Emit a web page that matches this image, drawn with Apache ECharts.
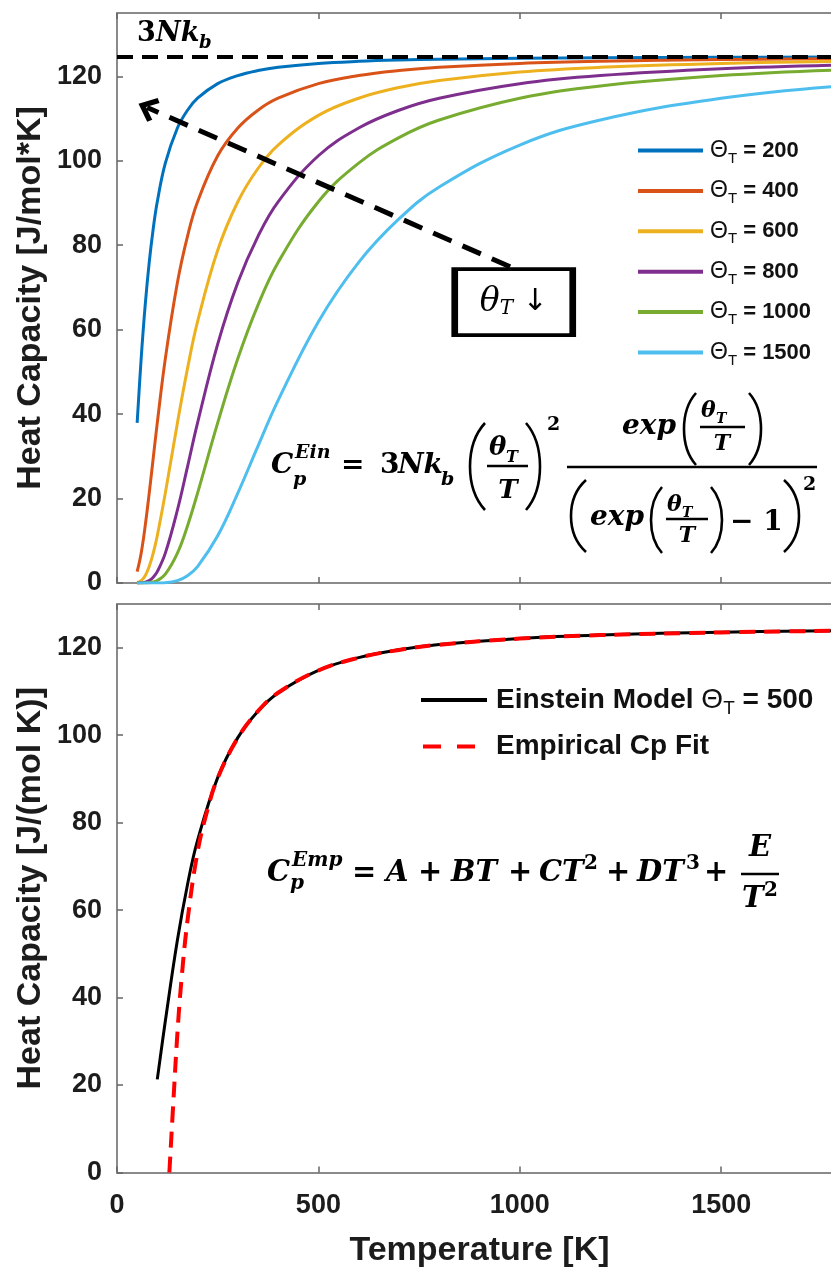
<!DOCTYPE html>
<html>
<head>
<meta charset="utf-8">
<script src="https://cdn.jsdelivr.net/npm/echarts@6/dist/echarts.min.js"></script>
<style>
  html, body { margin: 0; padding: 0; background: #fff; }
  #main { width: 831px; height: 1269px; }
</style>
</head>
<body>
<div id="main"></div>
<script>
// ---- top panel: Einstein model for several theta_T
const tempsTop = [50, 60, 70, 80, 90, 100, 120, 150, 175, 200, 250, 300, 350, 400, 500, 600, 700, 800, 1000, 1200, 1500, 1800];
const cp200  = [37.92, 53.15, 65.81, 75.93, 83.96, 90.29, 99.44, 107.76, 111.97, 114.81, 118.26, 120.18, 121.36, 122.13, 123.05, 123.55, 123.86, 124.05, 124.28, 124.41, 124.52, 124.57];
const cp400  = [2.68, 7.07, 13.52, 21.29, 29.62, 37.92, 53.15, 71.16, 82.11, 90.29, 101.19, 107.76, 111.97, 114.81, 118.26, 120.18, 121.36, 122.13, 123.05, 123.55, 123.96, 124.19];
const cp600  = [0.11, 0.57, 1.74, 3.88, 7.07, 11.18, 21.29, 37.92, 50.78, 61.89, 78.81, 90.29, 98.17, 103.73, 110.75, 114.81, 117.34, 119.02, 121.03, 122.13, 123.05, 123.55];
const cp800  = [0, 0.04, 0.18, 0.57, 1.36, 2.68, 7.07, 17.29, 27.52, 37.92, 56.57, 71.16, 82.11, 90.29, 101.19, 107.76, 111.97, 114.81, 118.26, 120.18, 121.79, 122.67];
const cp1000 = [0, 0, 0.02, 0.07, 0.23, 0.57, 2.08, 7.07, 13.52, 21.29, 37.92, 53.15, 65.81, 75.93, 90.29, 99.44, 105.49, 109.66, 114.81, 117.73, 120.18, 121.54];
const cp1500 = [0, 0, 0, 0, 0, 0.01, 0.07, 0.57, 1.74, 3.88, 11.18, 21.29, 32.41, 43.25, 61.89, 75.93, 86.22, 93.79, 103.73, 109.66, 114.81, 117.73];
const thetas = ['200', '400', '600', '800', '1000', '1500'];
const topSeriesData = [cp200, cp400, cp600, cp800, cp1000, cp1500];
const colors = ['#0072BD', '#D95319', '#EDB120', '#7E2F8E', '#77AC30', '#4DBEEE'];
const limit3Nkb = 124.7;

// ---- bottom panel: Einstein theta_T = 500 vs empirical fit
const tempsBottom = [100, 120, 150, 175, 200, 250, 300, 350, 400, 500, 600, 700, 800, 1000, 1200, 1500, 1800];
const einstein500 = [21.29, 34.63, 53.15, 65.81, 75.93, 90.29, 99.44, 105.49, 109.66, 114.81, 117.73, 119.53, 120.72, 122.13, 122.91, 123.55, 123.90];
const tempsFit = [130, 140, 150, 160, 175, 200, 225, 250, 300, 350, 400, 500, 600, 700, 800, 1000, 1200, 1500, 1800];
const fitCp = [0, 16.3, 31.9, 44.0, 57.6, 73.3, 83.1, 90.2, 99.4, 105.5, 109.7, 114.8, 117.7, 119.5, 120.7, 122.1, 122.9, 123.5, 123.9];

const pairs = (xs, ys) => xs.map((x, i) => [x, ys[i]]);

const sans = 'Liberation Sans';
const serif = 'DejaVu Serif';
const axisGrey = '#8a8a8a';
const labelCol = '#1c1c1c';

function xAxisFor(grid, pos, withLabels) {
    return {
        type: 'value', gridIndex: grid, position: pos,
        min: 0, max: 1800, interval: 500,
        axisLine: { show: true, onZero: false, lineStyle: { color: axisGrey, width: 2 } },
        axisTick: { show: true, inside: true, length: 6, lineStyle: { color: '#666', width: 1.5 } },
        axisLabel: {
            show: withLabels, showMaxLabel: false, margin: 20,
            formatter: v => String(v),
            fontFamily: sans, fontWeight: 'bold', fontSize: 27, color: labelCol
        },
        splitLine: { show: false },
        name: withLabels ? 'Temperature [K]' : '',
        nameLocation: 'middle', nameGap: 61, nameMoveOverlap: false,
        nameTextStyle: { fontFamily: sans, fontWeight: 'bold', fontSize: 34, color: labelCol }
    };
}
function yAxisFor(grid, max, name) {
    return {
        type: 'value', gridIndex: grid, min: 0, max: max, interval: 20,
        axisLine: { show: true, onZero: false, lineStyle: { color: axisGrey, width: 2 } },
        axisTick: { show: true, inside: true, length: 6, lineStyle: { color: '#666', width: 1.5 } },
        axisLabel: {
            showMaxLabel: false, margin: 15,
            formatter: v => String(v),
            fontFamily: sans, fontWeight: 'bold', fontSize: 27, color: labelCol
        },
        splitLine: { show: false },
        name: name, nameLocation: 'middle', nameGap: 69, nameMoveOverlap: false,
        nameTextStyle: { fontFamily: sans, fontWeight: 'bold', fontSize: 34, color: labelCol }
    };
}

// math text helpers (pixel layout of the equations)
function mt(x, base, s, size, o) {
    o = o || {};
    return {
        type: 'text', x: x, y: base - 0.35 * size, silent: true,
        style: {
            text: s, fontFamily: o.family || serif, fontSize: size,
            fontStyle: o.upright ? 'normal' : 'italic',
            fontWeight: o.light ? 'normal' : 'bold',
            fill: '#000', align: o.align || 'left', verticalAlign: 'middle'
        }
    };
}
function hl(x1, x2, y) {
    return { type: 'line', silent: true, shape: { x1: x1, y1: y, x2: x2, y2: y }, style: { stroke: '#000', lineWidth: 2.6 } };
}
function paren(xEnd, top, bot, xMid) {
    const c = xEnd + (xMid - xEnd) / 0.75;
    return {
        type: 'bezierCurve', silent: true,
        shape: { x1: xEnd, y1: top, x2: xEnd, y2: bot, cpx1: c, cpy1: top + (bot - top) * 0.25, cpx2: c, cpy2: bot - (bot - top) * 0.25 },
        style: { stroke: '#000', lineWidth: 2.6, fill: null }
    };
}

const up = { upright: true };
const graphics = [
    // 3Nk_b label
    mt(137, 43, '3', 27, up), mt(156, 43, 'Nk', 27), mt(199, 50, 'b', 18),
    // C_p^Ein = 3Nk_b (θT/T)^2 exp(θT/T) / (exp(θT/T) - 1)^2
    mt(271, 476, 'C', 28), mt(295, 460, 'Ein', 19), mt(293, 487, 'p', 19),
    mt(341, 476, '=', 28, up), mt(380, 476, '3', 28, up), mt(398, 476, 'Nk', 28), mt(441, 487, 'b', 19),
    paren(485, 423, 510, 470),
    mt(489, 457, 'θ', 26), mt(506, 463, 'T', 16), hl(487, 528, 466), mt(508, 500, 'T', 26, { align: 'center' }),
    paren(526, 423, 510, 540),
    mt(547, 432, '2', 19, up),
    hl(567, 817, 467),
    mt(622, 437, 'exp', 28),
    paren(696, 393, 465, 684),
    mt(701, 419, 'θ', 22), mt(716, 424, 'T', 14), hl(700, 745, 427), mt(722, 452, 'T', 22, { align: 'center' }),
    paren(749, 393, 465, 761),
    paren(586, 480, 552, 571),
    mt(590, 528, 'exp', 28),
    paren(662, 487, 553, 651),
    mt(667, 513, 'θ', 22), mt(682, 518, 'T', 14), hl(666, 708, 519), mt(687, 544, 'T', 22, { align: 'center' }),
    paren(711, 487, 553, 722),
    mt(730, 533, '− 1', 28, up),
    paren(784, 480, 552, 799),
    mt(803, 492, '2', 19, up),
    // C_p^Emp = A + BT + CT^2 + DT^3 + E/T^2
    mt(267, 884, 'C', 29), mt(292, 868, 'Emp', 20), mt(290, 891, 'p', 20),
    mt(352, 884, '=', 29, up), mt(386, 884, 'A', 29), mt(418, 884, '+', 29, up),
    mt(451, 884, 'BT', 29), mt(508, 884, '+', 29, up),
    mt(539, 884, 'CT', 29), mt(584, 871, '2', 20, up), mt(606, 884, '+', 29, up),
    mt(637, 884, 'DT', 29), mt(686, 871, '3', 20, up), mt(704, 884, '+', 29, up),
    mt(760, 859, 'E', 29, { align: 'center' }), hl(741, 779, 874), mt(742, 910, 'T', 29), mt(764, 898, '2', 20, up)
];

const chevron = 'path://M10,0 L20,12 L17,15 L10,6.5 L3,15 L0,12 Z';
const dashIcon = 'path://M0,0H0.01V4H0Z M2,0H20V4H2Z M36,0H54V4H36Z M65.99,0H66V4H65.99Z';

const topSeries = thetas.map((t, i) => ({
    name: 'Θ_T = ' + t,
    type: 'line', xAxisIndex: 0, yAxisIndex: 0,
    data: pairs(tempsTop, topSeriesData[i]),
    smooth: 0.4, symbol: 'none',
    lineStyle: { color: colors[i], width: 3 },
    itemStyle: { color: colors[i] },
    z: 3
}));
// 3Nk_b asymptote
topSeries[0].markLine = {
    silent: true, symbol: 'none', label: { show: false },
    lineStyle: { color: '#000', width: 4, type: [16, 9] },
    data: [{ yAxis: limit3Nkb }]
};
// dashed arrow "theta_T decreasing"
topSeries[1].markLine = {
    silent: true, label: { show: false }, symbolSize: [26, 19],
    lineStyle: { color: '#000', width: 5, type: [20, 12] },
    data: [[{ coord: [976, 74.9], symbol: 'none' }, { coord: [75, 112.6], symbol: chevron }]]
};
// theta_T box
topSeries[2].markPoint = {
    silent: true,
    data: [{
        coord: [985, 66.5], symbol: 'rect', symbolSize: [118, 66],
        itemStyle: { color: '#fff', borderColor: '#000', borderWidth: 5 },
        label: {
            show: true, position: 'inside',
            formatter: '{th|θ}{sub|T}{ar| ↓}',
            rich: {
                th: { fontFamily: serif, fontStyle: 'italic', fontSize: 33, color: '#000' },
                sub: { fontFamily: serif, fontStyle: 'italic', fontSize: 20, color: '#000', padding: [14, 0, 0, 0] },
                ar: { fontFamily: 'DejaVu Sans', fontSize: 30, color: '#000' }
            }
        }
    }]
};

const bottomSeries = [
    {
        name: 'Einstein Model Θ_T = 500',
        type: 'line', xAxisIndex: 2, yAxisIndex: 1,
        data: pairs(tempsBottom, einstein500),
        smooth: 0.4, symbol: 'none',
        lineStyle: { color: '#000', width: 3 }, itemStyle: { color: '#000' }
    },
    {
        name: 'Empirical Cp Fit',
        type: 'line', xAxisIndex: 2, yAxisIndex: 1,
        data: pairs(tempsFit, fitCp),
        smooth: 0.4, symbol: 'none',
        lineStyle: { color: '#FF0000', width: 4, type: [16, 9] }, itemStyle: { color: '#FF0000' }
    }
];

const legendRichTop = {
    th: { fontFamily: sans, fontSize: 23, color: '#111', padding: [0, 0, 0, 2] },
    sub: { fontFamily: sans, fontSize: 15, color: '#111', padding: [16, 0, 0, 0] },
    val: { fontFamily: sans, fontSize: 22, fontWeight: 'bold', color: '#111' }
};
const legendRichBottom = {
    b: { fontFamily: sans, fontSize: 28, fontWeight: 'bold', color: '#111' },
    lead: { fontFamily: sans, fontSize: 28, fontWeight: 'bold', color: '#111', padding: [0, 0, 0, 4] },
    th: { fontFamily: sans, fontSize: 28, color: '#111' },
    sub: { fontFamily: sans, fontSize: 19, color: '#111', padding: [18, 0, 0, 0] }
};

const option = {
    animation: false,
    backgroundColor: '#fff',
    grid: [
        { left: 117, top: 13, width: 725, height: 570, outerBoundsMode: 'none', containLabel: false },
        { left: 117, top: 604, width: 725, height: 568.5, outerBoundsMode: 'none', containLabel: false }
    ],
    xAxis: [xAxisFor(0, 'bottom', false), xAxisFor(0, 'top', false), xAxisFor(1, 'bottom', true), xAxisFor(1, 'top', false)],
    yAxis: [yAxisFor(0, 135, 'Heat Capacity [J/mol*K]'), yAxisFor(1, 130, 'Heat Capacity [J/(mol K)]')],
    legend: [
        {
            orient: 'vertical', left: 638, top: 139, padding: 0,
            itemWidth: 65, itemHeight: 4, itemGap: 13.4,
            data: topSeries.map(s => ({ name: s.name, icon: 'rect' })),
            formatter: name => '{th|Θ}{sub|T}{val| = ' + name.split('= ')[1] + '}',
            textStyle: { rich: legendRichTop },
            selectedMode: false
        },
        {
            orient: 'vertical', left: 421, top: 686, padding: 0,
            itemWidth: 66, itemHeight: 4, itemGap: 14,
            data: [
                { name: bottomSeries[0].name, icon: 'rect' },
                { name: bottomSeries[1].name, icon: dashIcon }
            ],
            formatter: name => name.indexOf('Θ') >= 0
                ? '{lead|Einstein Model }{th|Θ}{sub|T}{b| = 500}'
                : '{lead|Empirical Cp Fit}',
            textStyle: { rich: legendRichBottom },
            selectedMode: false
        }
    ],
    graphic: graphics,
    series: topSeries.concat(bottomSeries)
};

const chart = echarts.init(document.getElementById('main'), null, { renderer: 'canvas' });
chart.setOption(option);
</script>
</body>
</html>
